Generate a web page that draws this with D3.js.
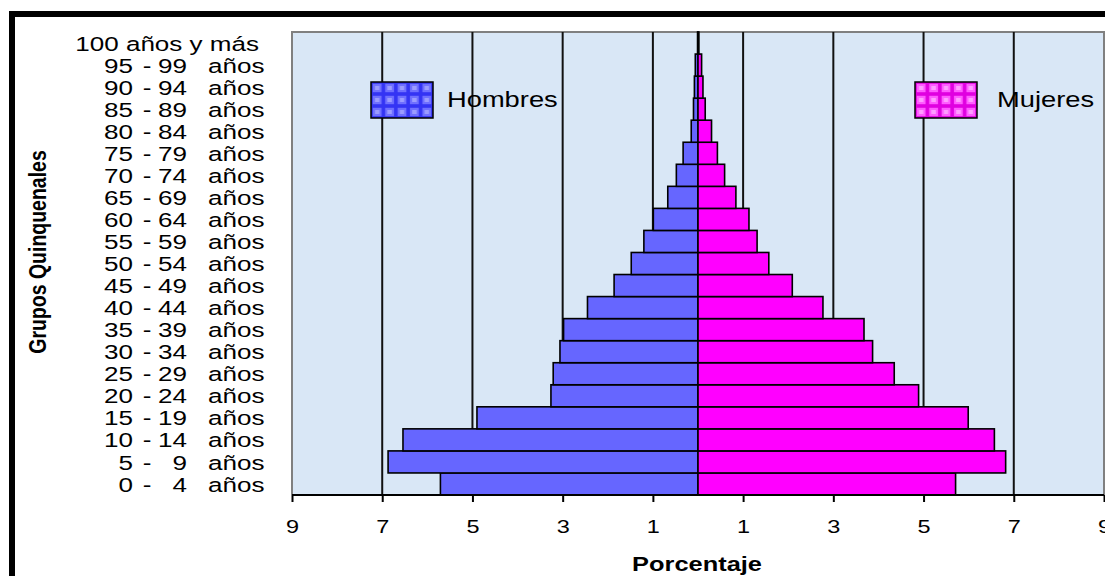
<!DOCTYPE html>
<html>
<head>
<meta charset="utf-8">
<script src="https://cdn.jsdelivr.net/npm/d3@7"></script>
<style>
  html, body { margin: 0; padding: 0; background: #fff; overflow: hidden; }
  text { font-family: "Liberation Sans", Arial, sans-serif; fill: #000; }
</style>
</head>
<body>
<div id="chart"></div>
<script>
// grupos quinquenales, de abajo hacia arriba
const ageGroups = ['0 - 4', '5 - 9', '10 - 14', '15 - 19', '20 - 24', '25 - 29', '30 - 34',
  '35 - 39', '40 - 44', '45 - 49', '50 - 54', '55 - 59', '60 - 64', '65 - 69', '70 - 74',
  '75 - 79', '80 - 84', '85 - 89', '90 - 94', '95 - 99', '100 años y más'];
const hombres = [5.71, 6.87, 6.54, 4.90, 3.26, 3.21, 3.06, 2.98, 2.45, 1.86, 1.48,
  1.20, 0.99, 0.67, 0.48, 0.33, 0.15, 0.10, 0.08, 0.06, 0.01];
const mujeres = [5.71, 6.82, 6.57, 5.99, 4.89, 4.35, 3.87, 3.68, 2.77, 2.09, 1.57,
  1.31, 1.13, 0.84, 0.59, 0.43, 0.30, 0.16, 0.11, 0.08, 0.02];
const xTicks = [-9, -7, -5, -3, -1, 1, 3, 5, 7, 9];
const seriesNames = ['Hombres', 'Mujeres'];

(function() {
  const width = 1105;
  const height = 576;
  const sx = 1.27; // the original picture is stretched sideways
  const left = 292, right = 1104, top = 32, bottom = 495;

  const svg = d3.select('#chart').append('svg')
    .attr('width', width)
    .attr('height', height);

  const defs = svg.append('defs');
  const pat = (id, x0, y0, w, h, base, mid, light) => {
    const p = defs.append('pattern')
      .attr('id', id)
      .attr('patternUnits', 'userSpaceOnUse')
      .attr('x', x0).attr('y', y0)
      .attr('width', w).attr('height', h);
    p.append('rect').attr('width', w).attr('height', h).attr('fill', base);
    p.append('rect').attr('x', 1.8).attr('y', 1.8).attr('width', w - 3.6).attr('height', h - 3.6).attr('fill', mid);
    p.append('rect').attr('x', 4).attr('y', 4).attr('width', w - 8).attr('height', h - 8).attr('fill', light);
  };
  pat('patH', 371, 82, 62 / 5, 36 / 3, '#3434f4', '#7070ff', '#9c9cff');
  pat('patM', 915, 82, 62 / 5, 36 / 3, '#e000e0', '#ff5cff', '#ff9cff');

  const txt = (x, y, str, anchor, size, weight, extra) => {
    return svg.append('text')
      .attr('transform', `translate(${x},${y}) scale(${sx},1)` + (extra || ''))
      .attr('text-anchor', anchor)
      .style('font-size', size + 'px')
      .style('font-weight', weight || 'normal')
      .text(str);
  };

  // outer frame
  svg.append('rect')
    .attr('x', 12).attr('y', 14)
    .attr('width', 1200).attr('height', 700)
    .attr('fill', '#fff')
    .attr('stroke', '#000')
    .attr('stroke-width', 6);

  const x = d3.scaleLinear().domain([-9, 9]).range([left, right]);
  const y = d3.scaleBand().domain(ageGroups).range([bottom, top]).padding(0);

  // plot background
  svg.append('rect')
    .attr('x', left).attr('y', top)
    .attr('width', right - left).attr('height', bottom - top)
    .attr('fill', '#d9e7f6');
  svg.append('path')
    .attr('d', `M${left},${bottom}V${top}H${right}V${bottom}`)
    .attr('fill', 'none')
    .attr('stroke', '#808080')
    .attr('stroke-width', 2);

  // gridlines
  const grid = xTicks.filter(d => Math.abs(d) < 9).concat([0]);
  svg.append('g').selectAll('line')
    .data(grid)
    .join('line')
    .attr('x1', d => x(d)).attr('x2', d => x(d))
    .attr('y1', top).attr('y2', bottom)
    .attr('stroke', '#111')
    .attr('stroke-width', 2);

  // bars
  const rows = ageGroups.map((g, i) => ({g: g, h: hombres[i], m: mujeres[i]}));
  svg.append('g').selectAll('rect')
    .data(rows)
    .join('rect')
    .attr('x', d => x(-d.h))
    .attr('y', d => y(d.g))
    .attr('width', d => x(0) - x(-d.h))
    .attr('height', y.bandwidth())
    .attr('fill', '#6666ff')
    .attr('stroke', '#000')
    .attr('stroke-width', 1.6);
  svg.append('g').selectAll('rect')
    .data(rows)
    .join('rect')
    .attr('x', x(0))
    .attr('y', d => y(d.g))
    .attr('width', d => x(d.m) - x(0))
    .attr('height', y.bandwidth())
    .attr('fill', '#ff00ff')
    .attr('stroke', '#000')
    .attr('stroke-width', 1.6);

  // x axis
  const xAxis = d3.axisBottom(x)
    .tickValues(xTicks)
    .tickFormat(d => Math.abs(d))
    .tickSize(7)
    .tickPadding(18);
  const ax = svg.append('g')
    .attr('transform', `translate(0, ${bottom})`)
    .call(xAxis);
  ax.select('.domain').attr('stroke', '#000').attr('stroke-width', 2)
    .attr('d', `M${left},0H${right}`);
  ax.selectAll('.tick line').attr('stroke', '#000').attr('stroke-width', 2);
  ax.selectAll('.tick text')
    .attr('transform', `scale(${sx},1)`)
    .style('font-size', '18.5px')
    .style('font-family', '"Liberation Sans", Arial, sans-serif')
    .attr('fill', '#000');

  // y labels
  ageGroups.forEach(g => {
    const cy = y(g) + y.bandwidth() / 2 + 7.6;
    if (g.indexOf('más') >= 0) {
      txt(259, cy, g, 'end', 20.5);
      return;
    }
    const parts = g.split(' - ');
    txt(133, cy, parts[0], 'end', 20.5);
    txt(147, cy, '-', 'middle', 20.5);
    txt(187, cy, parts[1], 'end', 20.5);
    txt(208, cy, 'años', 'start', 20.5);
  });

  // titles
  txt(46, 252, 'Grupos Quinquenales', 'middle', 19.5, 'bold', ' rotate(-90)');
  txt(697, 571, 'Porcentaje', 'middle', 20, 'bold');

  // legend
  svg.append('rect')
    .attr('x', 371).attr('y', 82).attr('width', 62).attr('height', 36)
    .attr('fill', 'url(#patH)').attr('stroke', '#000').attr('stroke-width', 1.5);
  svg.append('rect')
    .attr('x', 915).attr('y', 82).attr('width', 62).attr('height', 36)
    .attr('fill', 'url(#patM)').attr('stroke', '#000').attr('stroke-width', 1.5);
  txt(447, 107, seriesNames[0], 'start', 21.5);
  txt(997, 107, seriesNames[1], 'start', 21.5);
})();
</script>
</body>
</html>
